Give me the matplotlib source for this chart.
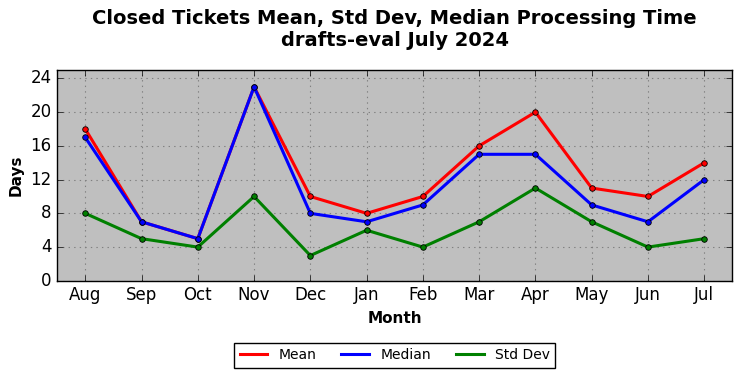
import numpy as np
import matplotlib
matplotlib.use("Agg")
import matplotlib.pyplot as plt

months = ["Aug", "Sep", "Oct", "Nov", "Dec", "Jan", "Feb", "Mar", "Apr", "May", "Jun", "Jul"]
mean_days = [18, 7, 5, 23, 10, 8, 10, 16, 20, 11, 10, 14]
median_days = [17, 7, 5, 23, 8, 7, 9, 15, 15, 9, 7, 12]
std_days = [8, 5, 4, 10, 3, 6, 4, 7, 11, 7, 4, 5]

plt.style.use("classic")
fig, ax = plt.subplots(figsize=(7.42, 3.78), dpi=100)
fig.patch.set_facecolor("white")
ax.set_facecolor("#bfbfbf")

x = np.arange(len(months))
for vals, col, lab in [(mean_days, "red", "Mean"),
                       (median_days, "blue", "Median"),
                       (std_days, "green", "Std Dev")]:
    ax.plot(x, vals, color=col, lw=2.2, marker="o", ms=4,
            mec="black", mew=0.6, label=lab)

ax.set_xticks(x)
ax.set_xticklabels(months, fontsize=12)
ax.set_xlim(-0.5, 11.5)
ax.set_ylim(0, 25)
ax.set_yticks(range(0, 25, 4))
ax.tick_params(axis="y", labelsize=12)
ax.grid(True, color="gray", linestyle=":", linewidth=0.8)
ax.set_axisbelow(True)

ax.set_xlabel("Month", fontsize=11, fontweight="bold")
ax.set_ylabel("Days", fontsize=11, fontweight="bold")
ax.set_title("Closed Tickets Mean, Std Dev, Median Processing Time\ndrafts-eval July 2024",
             fontsize=14, fontweight="bold", pad=17)

leg = ax.legend(loc="upper center", bbox_to_anchor=(0.5, -0.26), ncol=3,
                fontsize=10, frameon=True, fancybox=False, numpoints=1,
                handlelength=2, columnspacing=1.8)
for h in leg.legend_handles:
    h.set_marker("")

fig.subplots_adjust(left=0.077, right=0.987, top=0.815, bottom=0.257)
fig.savefig("out.png", dpi=100)
